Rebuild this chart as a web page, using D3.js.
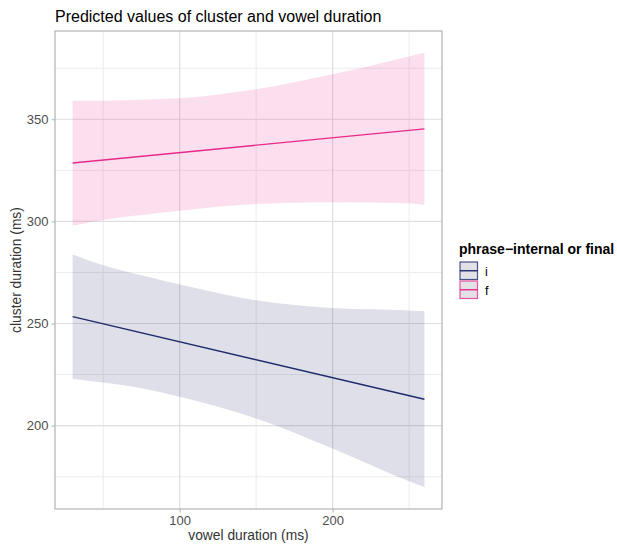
<!DOCTYPE html>
<html><head><meta charset="utf-8">
<script src="https://cdn.jsdelivr.net/npm/d3@7"></script>
<style>body{margin:0;background:#fff;font-family:"Liberation Sans",Arial,sans-serif;}</style>
</head><body><svg id="c" width="617" height="545"></svg>
<script>
// Data
const groups = ["i", "f"];
const groupColors = ["#1f2a6b", "#e7298a"];
const lineX = [30, 260];
const lineI = [253.4, 212.9];
const lineF = [328.6, 345.3];
const ribbonX = [30, 50, 75, 100, 150, 200, 250, 260];
const ribbonILower = [223.0, 221.1, 218.3, 214.1, 203.5, 188.8, 172.8, 170.0];
const ribbonIUpper = [283.8, 278.5, 273.6, 269.1, 261.4, 257.6, 256.4, 256.0];
const ribbonFLower = [297.9, 300.7, 303.1, 305.2, 308.5, 309.4, 308.9, 308.0];
const ribbonFUpper = [359.0, 359.1, 359.6, 360.3, 364.7, 372.0, 380.7, 382.5];
const xTicks = [100, 200];
const xMinor = [50, 150, 250];
const yTicks = [200, 250, 300, 350];
const yMinor = [175, 225, 275, 325, 375];

const svg = d3.select("#c");
const L = 55, R = 442, T = 31, B = 509;
const x = d3.scaleLinear().domain([18.5, 271.5]).range([L, R]);
const y = d3.scaleLinear().domain([159.2, 393.2]).range([B, T]);

// grid
const g = svg.append("g");
g.selectAll(".mx").data(xMinor).join("line").attr("x1", d=>x(d)).attr("x2", d=>x(d)).attr("y1", T).attr("y2", B).attr("stroke", "#ececec").attr("stroke-width", 1);
g.selectAll(".my").data(yMinor).join("line").attr("y1", d=>y(d)).attr("y2", d=>y(d)).attr("x1", L).attr("x2", R).attr("stroke", "#ececec").attr("stroke-width", 1);
g.selectAll(".Mx").data(xTicks).join("line").attr("x1", d=>x(d)).attr("x2", d=>x(d)).attr("y1", T).attr("y2", B).attr("stroke", "#dedede").attr("stroke-width", 1.2);
g.selectAll(".My").data(yTicks).join("line").attr("y1", d=>y(d)).attr("y2", d=>y(d)).attr("x1", L).attr("x2", R).attr("stroke", "#dedede").attr("stroke-width", 1.2);

// ribbons
const ribbons = [
  {lo: ribbonILower, hi: ribbonIUpper, c: groupColors[0]},
  {lo: ribbonFLower, hi: ribbonFUpper, c: groupColors[1]}
];
ribbons.forEach(r => {
  const pts = ribbonX.map((v, i) => ({x: v, lo: r.lo[i], hi: r.hi[i]}));
  const area = d3.area().x(d => x(d.x)).y0(d => y(d.lo)).y1(d => y(d.hi)).curve(d3.curveMonotoneX);
  svg.append("path").datum(pts).attr("d", area).attr("fill", r.c).attr("fill-opacity", 0.15);
});
// lines
[lineI, lineF].forEach((vals, k) => {
  const pts = lineX.map((v, i) => [v, vals[i]]);
  svg.append("path").datum(pts).attr("d", d3.line().x(d => x(d[0])).y(d => y(d[1])))
    .attr("fill", "none").attr("stroke", groupColors[k]).attr("stroke-width", 1.4);
});

// border
svg.append("rect").attr("x", L).attr("y", T).attr("width", R - L).attr("height", B - T)
  .attr("fill", "none").attr("stroke", "#b3b3b3").attr("stroke-width", 1.2);

// axes
const xa = svg.append("g").attr("transform", `translate(0,${B})`)
  .call(d3.axisBottom(x).tickValues(xTicks).tickSize(3.5).tickPadding(3));
const ya = svg.append("g").attr("transform", `translate(${L},0)`)
  .call(d3.axisLeft(y).tickValues(yTicks).tickSize(3.5).tickPadding(3));
[xa, ya].forEach(a => {
  a.select(".domain").remove();
  a.selectAll(".tick line").attr("stroke", "#b3b3b3");
  a.selectAll(".tick text").attr("fill", "#4d4d4d").style("font-size", "13px")
    .style("font-family", '"Liberation Sans", Arial, sans-serif');
});

// titles
svg.append("text").attr("x", L).attr("y", 22).text("Predicted values of cluster and vowel duration")
  .style("font-size", "16px").attr("fill", "#000");
svg.append("text").attr("x", (L + R) / 2).attr("y", 540).attr("text-anchor", "middle")
  .text("vowel duration (ms)").style("font-size", "13.8px").attr("fill", "#333");
svg.append("text").attr("transform", `translate(21,${(T + B) / 2}) rotate(-90)`).attr("text-anchor", "middle")
  .text("cluster duration (ms)").style("font-size", "13.8px").attr("fill", "#333");

// legend
svg.append("text").attr("x", 459).attr("y", 254).text("phrase\u2212internal or final")
  .style("font-size", "14px").style("font-weight", "bold").attr("fill", "#000");
groups.forEach((gname, i) => {
  const ky = 262 + i * 19;
  svg.append("rect").attr("x", 460).attr("y", ky).attr("width", 17.5).attr("height", 17.5)
    .attr("fill", "#e2e2e6").attr("stroke", groupColors[i]).attr("stroke-width", 1.2).attr("stroke-opacity", 0.8);
  svg.append("line").attr("x1", 460).attr("x2", 477.5).attr("y1", ky + 8.75).attr("y2", ky + 8.75)
    .attr("stroke", groupColors[i]).attr("stroke-width", 1.4);
  svg.append("text").attr("x", 485).attr("y", ky + 13.5).text(gname)
    .style("font-size", "12.5px").attr("fill", "#000");
});
</script></body></html>
